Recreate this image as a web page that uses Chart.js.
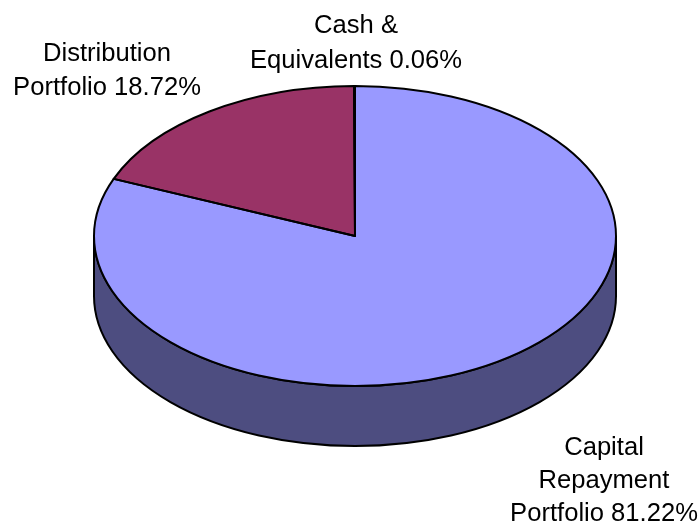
<!DOCTYPE html>
<html>
<head>
<meta charset="utf-8">
<style>html,body{margin:0;padding:0;background:#fff}#box{width:698px;height:525px;position:relative}</style>
<script src="https://cdn.jsdelivr.net/npm/chart.js@4"></script>
</head>
<body>
<div id="box"><canvas id="c" width="698" height="525"></canvas></div>
<script>
const categories = ["Capital Repayment Portfolio", "Distribution Portfolio", "Cash & Equivalents"];
const shares = [81.22, 18.72, 0.06];
const sliceColors = ["#9999FF", "#993366", "#FFFFCC"];
const wallColors = ["#4D4D80", "#4D1A33", "#808066"];
const labelLines = [
  ["Capital", "Repayment", "Portfolio 81.22%"],
  ["Distribution", "Portfolio 18.72%"],
  ["Cash &", "Equivalents 0.06%"]
];
const labelCenters = [[604, 446], [107, 52], [356, 24]];

const squash = 150 / 261, depth = 60, lineH = [33, 34, 35];

const pie3d = {
  id: "pie3d",
  beforeDatasetsDraw(chart) {
    const ctx = chart.ctx, arcs = chart.getDatasetMeta(0).data;
    ctx.save();
    arcs.forEach((a, i) => {
      const s = Math.max(a.startAngle, 0), e = Math.min(a.endAngle, Math.PI);
      if (e <= s) return;
      const r = a.outerRadius;
      ctx.beginPath();
      ctx.save();
      ctx.translate(a.x, a.y);
      ctx.scale(1, squash);
      ctx.arc(0, 0, r, s, e);
      ctx.arc(0, depth / squash, r, e, s, true);
      ctx.closePath();
      ctx.restore();
      ctx.fillStyle = wallColors[i];
      ctx.fill();
      ctx.lineWidth = 2;
      ctx.strokeStyle = "#000";
      ctx.stroke();
    });
    ctx.restore();
    const a0 = arcs[0];
    ctx.save();
    ctx.translate(a0.x, a0.y);
    ctx.scale(1, squash);
    ctx.translate(-a0.x, -a0.y);
  },
  afterDatasetsDraw(chart) {
    const ctx = chart.ctx, arcs = chart.getDatasetMeta(0).data;
    ctx.restore();
    ctx.save();
    ctx.lineWidth = 2;
    ctx.strokeStyle = "#000";
    ctx.lineJoin = "round";
    arcs.forEach(a => {
      ctx.beginPath();
      ctx.save();
      ctx.translate(a.x, a.y);
      ctx.scale(1, squash);
      ctx.moveTo(0, 0);
      ctx.arc(0, 0, a.outerRadius, a.startAngle, a.endAngle);
      ctx.closePath();
      ctx.restore();
      ctx.stroke();
    });
    ctx.font = "25.6px 'Liberation Sans', Arial, sans-serif";
    ctx.fillStyle = "#000";
    ctx.textAlign = "center";
    ctx.textBaseline = "middle";
    labelLines.forEach((lines, i) => {
      lines.forEach((t, j) => {
        ctx.fillText(t, labelCenters[i][0], labelCenters[i][1] + 2 + j * lineH[i]);
      });
    });
    ctx.restore();
  }
};

new Chart(document.getElementById("c"), {
  type: "pie",
  data: {
    labels: categories,
    datasets: [{ data: shares, backgroundColor: sliceColors, borderWidth: 0 }]
  },
  options: {
    responsive: false,
    animation: false,
    radius: 261,
    layout: { padding: { left: 12, right: 0, top: 0, bottom: 53 } },
    plugins: { legend: { display: false }, tooltip: { enabled: false }, title: { display: false } }
  },
  plugins: [pie3d]
});
</script>
</body>
</html>
